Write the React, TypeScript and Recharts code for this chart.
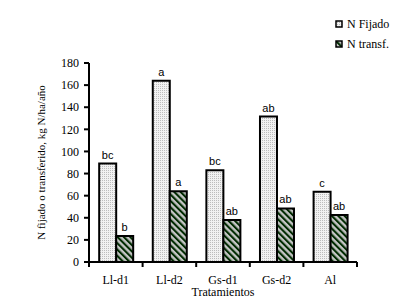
import React from 'react';
import { BarChart, Bar, XAxis, YAxis, Legend, LabelList } from 'recharts';

// Treatments on the x axis
const categories = ['Ll-d1', 'Ll-d2', 'Gs-d1', 'Gs-d2', 'Al'];
// kg N/ha/año
const nFijado = [89, 164, 83, 131.5, 63.5];
const nTransf = [23.5, 64, 38, 48.5, 42.5];
// significance letters above each bar
const fijadoLetters = ['bc', 'a', 'bc', 'ab', 'c'];
const transfLetters = ['b', 'a', 'ab', 'ab', 'ab'];
const yTicks = [0, 20, 40, 60, 80, 100, 120, 140, 160, 180];

const data = categories.map((name, i) => ({
  name,
  fijado: nFijado[i],
  transf: nTransf[i],
  fijadoSig: fijadoLetters[i],
  transfSig: transfLetters[i],
}));

const serif = "'Liberation Serif', 'Times New Roman', serif";
const sans = "'Liberation Sans', Arial, sans-serif";

// x tick: label in the middle of the band, tick marks on the band edges
const CategoryTick = (props: any) => {
  const { x, y, payload, index } = props;
  const half = payload.offset ?? 0;
  const axisY = y - 13;
  return (
    <g>
      <line x1={x - half} x2={x - half} y1={axisY} y2={axisY + 5} stroke="#000" strokeWidth={2} />
      {index === categories.length - 1 && (
        <line x1={x + half} x2={x + half} y1={axisY} y2={axisY + 5} stroke="#000" strokeWidth={2} />
      )}
      <text x={x} y={y} dy="0.71em" textAnchor="middle" style={{ fontFamily: serif, fontSize: 12 }} fill="#000">
        {payload.value}
      </text>
    </g>
  );
};

const renderLegend = (props: any) => {
  const items = props.payload || [];
  return (
    <svg width={70} height={40}>
      {items.map((item: any, i: number) => (
        <g key={item.value}>
          <rect x={3} y={7 + i * 20} width={6} height={6} fill={item.color} stroke="#000" strokeWidth={1.5} />
          <text x={14} y={13.5 + i * 20} style={{ fontFamily: serif, fontSize: 12 }} fill="#000">
            {item.value}
          </text>
        </g>
      ))}
    </svg>
  );
};

const labelStyle = { fontFamily: sans, fontSize: 11, fill: '#000' };

export default function App() {
  return (
    <div style={{ position: 'absolute', left: 0, top: 0, width: 407, height: 308, background: '#fff', fontFamily: serif }}>
      <svg width={0} height={0} style={{ position: 'absolute' }}>
        <defs>
          <pattern id="dots" width={2} height={2} patternUnits="userSpaceOnUse">
            <rect width={2} height={2} fill="#f2f2f2" />
            <rect width={1} height={1} fill="#bdbdbd" />
          </pattern>
          <pattern id="stripes" width={4.5} height={4.5} patternUnits="userSpaceOnUse" patternTransform="rotate(-45)">
            <rect width={4.5} height={4.5} fill="#c4c4c4" />
            <rect width={2.1} height={4.5} fill="#002a00" />
          </pattern>
        </defs>
      </svg>
      <BarChart
        width={407}
        height={308}
        data={data}
        margin={{ top: 63, right: 50, bottom: 6, left: 29 }}
        barCategoryGap="19%"
        barGap={0}
        style={{ fontFamily: serif }}
      >
        <XAxis
          dataKey="name"
          height={40}
          axisLine={{ stroke: '#000', strokeWidth: 2 }}
          tickLine={false}
          tickSize={0}
          tickMargin={13}
          tick={<CategoryTick />}
          interval={0}
          label={{ value: 'Tratamientos', position: 'insideBottom', offset: 6, style: { fontFamily: serif, fontSize: 12, fill: '#000' } }}
        />
        <YAxis
          width={60}
          domain={[0, 180]}
          ticks={yTicks}
          interval={0}
          axisLine={{ stroke: '#000', strokeWidth: 2 }}
          tickLine={{ stroke: '#000', strokeWidth: 2 }}
          tickSize={5}
          tickMargin={5}
          tick={{ style: { fontFamily: serif, fontSize: 12 }, fill: '#000' }}
          label={{
            value: 'N fijado o transferido, kg N/ha/año',
            angle: -90,
            position: 'insideLeft',
            offset: 12,
            style: { textAnchor: 'middle', fontFamily: serif, fontSize: 11, fill: '#000' },
          }}
        />
        <Legend
          layout="vertical"
          align="center"
          verticalAlign="middle"
          content={renderLegend}
          wrapperStyle={{ top: 14, left: 333, width: 70, height: 40 }}
        />
        <Bar dataKey="fijado" name="N Fijado" fill="url(#dots)" stroke="#000" strokeWidth={2} isAnimationActive={false}>
          <LabelList dataKey="fijadoSig" position="top" offset={5} fill="#000" style={labelStyle} />
        </Bar>
        <Bar dataKey="transf" name="N transf." fill="url(#stripes)" stroke="#000" strokeWidth={2} isAnimationActive={false}>
          <LabelList dataKey="transfSig" position="top" offset={5} fill="#000" style={labelStyle} />
        </Bar>
      </BarChart>
    </div>
  );
}
